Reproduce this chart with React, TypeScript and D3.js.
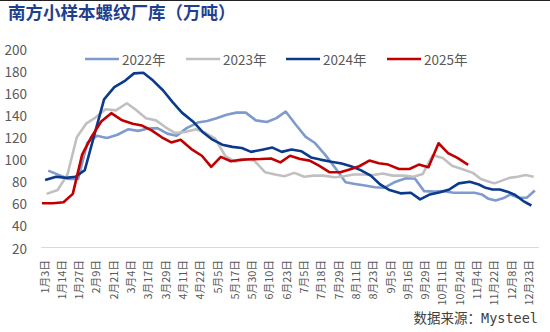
import React from "react";
import * as d3 from "d3";

const W = 550;
const H = 332;

const title = "南方小样本螺纹厂库（万吨）";
const source = "数据来源：Mysteel";

const tickLabels = [
  "1月3日", "1月14日", "1月27日", "2月9日", "2月21日", "3月4日", "3月17日", "3月29日",
  "4月11日", "4月22日", "5月5日", "5月17日", "5月30日", "6月10日", "6月23日", "7月5日",
  "7月18日", "7月29日", "8月11日", "8月23日", "9月5日", "9月16日", "9月29日", "10月11日",
  "10月24日", "11月4日", "11月22日", "12月8日", "12月23日",
];

const yTicks = [20, 40, 60, 80, 100, 120, 140, 160, 180, 200];

const seriesNames = ["2022年", "2023年", "2024年", "2025年"];
const seriesColors = ["#7f9bcd", "#c0c0c0", "#0b3a8c", "#c00000"];
// first weekly observation of each year (month index, day)
const seriesStart: [number, number, number][] = [
  [2022, 0, 6],
  [2023, 0, 5],
  [2024, 0, 4],
  [2025, 0, 2],
];

const v2022 = [
  89.5, 85.5, 82, 82, 115, 121, 119, 122, 127, 125.5, 127.5, 128, 123, 121, 128, 133,
  134.5, 137, 140, 142, 142, 135, 133.5, 137, 143, 131, 120, 114.5, 104, 91, 79, 77.5,
  76, 74.5, 74, 79, 82.5, 82.5, 71, 70.5, 71, 69.5, 69.5, 69.5, 68, 64, 62.5, 64.5,
  68, 65, 65, 71.5,
];
const v2023 = [
  68.5, 72, 86, 119.7, 132, 137.5, 145, 144, 150.5, 144, 137, 135, 128.5, 123.5, 124.5, 127,
  123.5, 118.5, 103, 97.5, 100, 98.6, 88, 86, 84.5, 87.5, 84, 85, 85, 83.5, 84.5, 86,
  86, 85.5, 87, 85, 85, 84, 86.5, 103.5, 101, 94, 91, 87.5, 82, 80, 78, 80.5,
  83, 84, 85.5, 84,
];
const v2024 = [
  81, 84, 83, 84, 90, 121, 154, 165, 171, 177.5, 178, 171, 162, 151.5, 142, 134,
  124, 117.5, 113, 111, 110, 106.5, 108.5, 110.4, 106.5, 108.6, 107, 101.5, 99.5, 97.5, 96, 93.5,
  90, 85, 77, 72, 69, 69.5, 63.5, 68, 70, 72.5, 78, 79.5, 77, 74, 72.5, 72.5,
  70.5, 67.5, 62, 58,
];
const v2025 = [
  60, 60, 61, 68.5, 104, 120, 134, 141.5, 135, 132, 130.3, 126, 119.7, 115, 117.4, 109,
  103, 93, 102, 98, 99.3, 99.8, 100, 100.5, 97, 103, 100, 98.6, 94, 88, 88, 90.5,
  93.5, 98.6, 96.2, 95, 91, 91, 95, 92.6, 114.3, 105.3, 101, 94.8,
];
const seriesValues = [v2022, v2023, v2024, v2025];

const textColor = "#595959";
const cjk = "'Noto Sans CJK SC', 'Noto Sans', sans-serif";

// day of year in a common (non-leap) reference year
function refDay(month: number, day: number): number {
  const d = new Date(2023, month, day);
  return d3.timeDay.count(new Date(2023, 0, 1), d) + 1;
}

export default function App() {
  const nCats = tickLabels.length * 2;
  const xCat = d3
    .scalePoint<number>()
    .domain(d3.range(nCats))
    .range([39.2, 540.9])
    .padding(0.5);

  const tickDays = tickLabels.map((l) => {
    const m = /(\d+)月(\d+)日/.exec(l)!;
    return refDay(+m[1] - 1, +m[2]);
  });
  const tickX = tickLabels.map((_, k) => xCat(k * 2) as number);
  const xDay = d3.scaleLinear().domain(tickDays).range(tickX);

  const y = d3.scaleLinear().domain([20, 200]).range([247.5, 48.5]);

  const line = d3
    .line<[number, number]>()
    .x((d) => d[0])
    .y((d) => d[1])
    .curve(d3.curveLinear);

  const paths = seriesValues.map((vals, s) => {
    const [yr, mo, dd] = seriesStart[s];
    const start = new Date(yr, mo, dd);
    const pts: [number, number][] = vals.map((v, i) => {
      const dt = d3.timeDay.offset(start, i * 7);
      return [xDay(refDay(dt.getMonth(), dt.getDate())), y(v)];
    });
    return line(pts) || "";
  });

  const legendX = [85, 186, 286, 387];
  const legendY = 59;

  return (
    <svg
      width={W}
      height={H}
      style={{ position: "absolute", left: 0, top: 0, background: "#fff" }}
    >
      <rect x={0} y={0} width={W} height={H} fill="#fff" />
      <line x1={0} x2={W} y1={0.5} y2={0.5} stroke="#222" strokeWidth={1} />
      <text
        x={8}
        y={19}
        fontFamily={cjk}
        fontSize={17.5}
        fontWeight={700}
        fill="#1f3f8f"
      >
        {title}
      </text>

      {/* y-axis labels */}
      {yTicks.map((t) => (
        <text
          key={t}
          x={27}
          y={y(t)}
          textAnchor="end"
          dominantBaseline="central"
          fontFamily={cjk}
          fontSize={13.5}
          fill={textColor}
        >
          {t}
        </text>
      ))}

      {/* x axis line */}
      <line
        x1={xCat.range()[0] + 2}
        x2={xCat.range()[1] - 2}
        y1={y(20)}
        y2={y(20)}
        stroke="#d9d9d9"
        strokeWidth={1.2}
      />

      {/* x labels */}
      {tickLabels.map((l, k) => (
        <text
          key={l}
          transform={`translate(${tickX[k]},${260}) rotate(-90)`}
          textAnchor="end"
          dominantBaseline="central"
          fontFamily={cjk}
          fontSize={10.8}
          fill={textColor}
        >
          {l}
        </text>
      ))}

      {/* series */}
      {paths.map((p, s) => (
        <path
          key={s}
          d={p}
          fill="none"
          stroke={seriesColors[s]}
          strokeWidth={2.6}
          strokeLinejoin="round"
          strokeLinecap="butt"
        />
      ))}

      {/* legend */}
      {seriesNames.map((n, s) => (
        <g key={n} transform={`translate(${legendX[s]},${legendY})`}>
          <line x1={0} x2={34} y1={0} y2={0} stroke={seriesColors[s]} strokeWidth={2.6} />
          <text
            x={37}
            y={0}
            dominantBaseline="central"
            fontFamily={cjk}
            fontSize={13.5}
            fill={textColor}
          >
            {n}
          </text>
        </g>
      ))}

      <text
        x={538}
        y={318}
        textAnchor="end"
        dominantBaseline="central"
        fontFamily={"'DejaVu Sans Mono', 'Noto Sans CJK SC', monospace"}
        fontSize={13.5}
        fill="#404040"
      >
        {source}
      </text>
    </svg>
  );
}
